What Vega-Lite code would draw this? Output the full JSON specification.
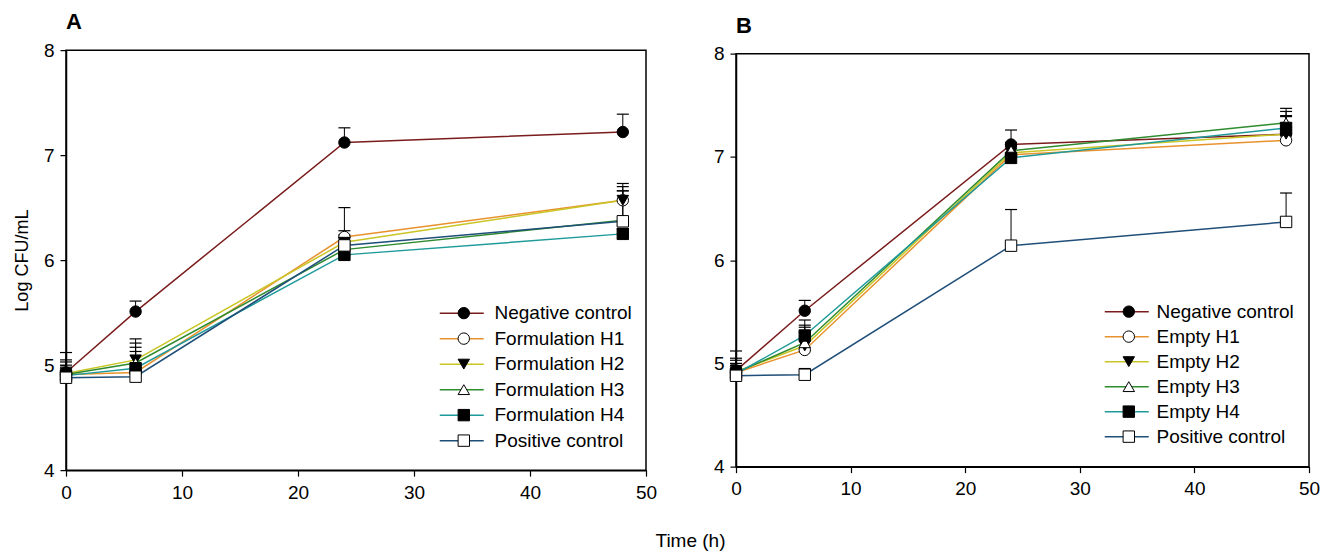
{
  "$schema": "https://vega.github.io/schema/vega-lite/v6.json",
  "background": "white",
  "padding": {"left": 12, "top": 10, "right": 14, "bottom": 4},
  "title": {"text": "Time (h)", "orient": "bottom", "anchor": "middle", "fontSize": 19, "font": "Liberation Sans", "fontWeight": "normal", "color": "black", "offset": 29, "dx": 24},
  "datasets": {
    "a": [
      {"series": "Negative control", "id": "NC", "t": 0, "y": 4.93, "hi": 5.12},
      {"series": "Negative control", "id": "NC", "t": 6, "y": 5.51, "hi": 5.61},
      {"series": "Negative control", "id": "NC", "t": 24, "y": 7.12, "hi": 7.26},
      {"series": "Negative control", "id": "NC", "t": 48, "y": 7.22, "hi": 7.39},
      {"series": "Formulation H1", "id": "H1", "t": 0, "y": 4.91, "hi": 5.05},
      {"series": "Formulation H1", "id": "H1", "t": 6, "y": 4.93, "hi": 5.13},
      {"series": "Formulation H1", "id": "H1", "t": 24, "y": 6.22, "hi": 6.28},
      {"series": "Formulation H1", "id": "H1", "t": 48, "y": 6.57, "hi": 6.66},
      {"series": "Formulation H2", "id": "H2", "t": 0, "y": 4.92, "hi": 5.03},
      {"series": "Formulation H2", "id": "H2", "t": 6, "y": 5.05, "hi": 5.21},
      {"series": "Formulation H2", "id": "H2", "t": 24, "y": 6.17, "hi": 6.24},
      {"series": "Formulation H2", "id": "H2", "t": 48, "y": 6.57, "hi": 6.70},
      {"series": "Formulation H3", "id": "H3", "t": 0, "y": 4.91, "hi": 5.00},
      {"series": "Formulation H3", "id": "H3", "t": 6, "y": 5.02, "hi": 5.17},
      {"series": "Formulation H3", "id": "H3", "t": 24, "y": 6.10, "hi": 6.16},
      {"series": "Formulation H3", "id": "H3", "t": 48, "y": 6.38, "hi": 6.73},
      {"series": "Formulation H4", "id": "H4", "t": 0, "y": 4.90, "hi": 4.98},
      {"series": "Formulation H4", "id": "H4", "t": 6, "y": 4.97, "hi": 5.25},
      {"series": "Formulation H4", "id": "H4", "t": 24, "y": 6.05, "hi": 6.12},
      {"series": "Formulation H4", "id": "H4", "t": 48, "y": 6.25, "hi": 6.30},
      {"series": "Positive control", "id": "PC", "t": 0, "y": 4.88, "hi": 4.95},
      {"series": "Positive control", "id": "PC", "t": 6, "y": 4.89, "hi": 4.95},
      {"series": "Positive control", "id": "PC", "t": 24, "y": 6.14, "hi": 6.50},
      {"series": "Positive control", "id": "PC", "t": 48, "y": 6.37, "hi": 6.66}
    ],
    "b": [
      {"series": "Negative control", "id": "NC", "t": 0, "y": 4.93, "hi": 5.12},
      {"series": "Negative control", "id": "NC", "t": 6, "y": 5.51, "hi": 5.61},
      {"series": "Negative control", "id": "NC", "t": 24, "y": 7.12, "hi": 7.26},
      {"series": "Negative control", "id": "NC", "t": 48, "y": 7.22, "hi": 7.39},
      {"series": "Empty H1", "id": "H1", "t": 0, "y": 4.91, "hi": 5.05},
      {"series": "Empty H1", "id": "H1", "t": 6, "y": 5.13, "hi": 5.35},
      {"series": "Empty H1", "id": "H1", "t": 24, "y": 7.02, "hi": 7.10},
      {"series": "Empty H1", "id": "H1", "t": 48, "y": 7.16, "hi": 7.22},
      {"series": "Empty H2", "id": "H2", "t": 0, "y": 4.92, "hi": 5.03},
      {"series": "Empty H2", "id": "H2", "t": 6, "y": 5.17, "hi": 5.30},
      {"series": "Empty H2", "id": "H2", "t": 24, "y": 7.04, "hi": 7.12},
      {"series": "Empty H2", "id": "H2", "t": 48, "y": 7.22, "hi": 7.40},
      {"series": "Empty H3", "id": "H3", "t": 0, "y": 4.91, "hi": 5.00},
      {"series": "Empty H3", "id": "H3", "t": 6, "y": 5.20, "hi": 5.37},
      {"series": "Empty H3", "id": "H3", "t": 24, "y": 7.06, "hi": 7.14},
      {"series": "Empty H3", "id": "H3", "t": 48, "y": 7.33, "hi": 7.47},
      {"series": "Empty H4", "id": "H4", "t": 0, "y": 4.90, "hi": 4.98},
      {"series": "Empty H4", "id": "H4", "t": 6, "y": 5.27, "hi": 5.42},
      {"series": "Empty H4", "id": "H4", "t": 24, "y": 6.99, "hi": 7.08},
      {"series": "Empty H4", "id": "H4", "t": 48, "y": 7.28, "hi": 7.44},
      {"series": "Positive control", "id": "PC", "t": 0, "y": 4.88, "hi": 4.95},
      {"series": "Positive control", "id": "PC", "t": 6, "y": 4.89, "hi": 4.95},
      {"series": "Positive control", "id": "PC", "t": 24, "y": 6.14, "hi": 6.49},
      {"series": "Positive control", "id": "PC", "t": 48, "y": 6.37, "hi": 6.65}
    ]
  },
  "spacing": 54,
  "center": true,
  "hconcat": [
    {
      "width": 580,
      "height": 420,
      "title": {"text": "A", "anchor": "start", "frame": "group", "fontSize": 22, "fontWeight": "bold", "font": "Liberation Sans", "color": "black", "offset": 7},
      "data": {"name": "a"},
      "layer": [
        {
          "mark": {"type": "line", "strokeWidth": 1.5},
          "encoding": {
            "x": {"field": "t", "type": "quantitative", "scale": {"domain": [0, 50]}, "axis": {"values": [0, 10, 20, 30, 40, 50], "title": null, "format": "d", "labelPadding": 7}},
            "y": {"field": "y", "type": "quantitative", "scale": {"domain": [4, 8]}, "axis": {"values": [4, 5, 6, 7, 8], "title": "Log CFU/mL", "format": "d", "labelPadding": 6}},
            "color": {
              "field": "series", "type": "nominal",
              "scale": {"domain": ["Negative control", "Formulation H1", "Formulation H2", "Formulation H3", "Formulation H4", "Positive control"],
                        "range": ["#7a1c1c", "#e8922e", "#c9c524", "#2e8b2e", "#1f9a9a", "#1f4e79"]},
              "legend": {"orient": "none", "legendX": 386.25, "legendY": 253.5, "title": null, "symbolType": "M-2.84,0H2.84", "symbolSize": 240, "symbolStrokeWidth": 1.5, "symbolFillColor": "transparent", "labelOffset": 23.25, "rowPadding": 5.5, "padding": 0}
            }
          }
        },
        {
          "mark": {"type": "rule", "color": "black", "strokeWidth": 1},
          "encoding": {
            "x": {"field": "t", "type": "quantitative"},
            "y": {"field": "y", "type": "quantitative"},
            "y2": {"field": "hi"}
          }
        },
        {
          "mark": {"type": "point", "shape": "M-1,0H1", "stroke": "black", "strokeWidth": 1.2, "size": 144, "filled": false, "opacity": 1},
          "encoding": {
            "x": {"field": "t", "type": "quantitative"},
            "y": {"field": "hi", "type": "quantitative"}
          }
        },
        {
          "mark": {"type": "point", "filled": true, "stroke": "black", "strokeWidth": 1, "size": 130, "opacity": 1},
          "encoding": {
            "x": {"field": "t", "type": "quantitative"},
            "y": {"field": "y", "type": "quantitative"},
            "shape": {
              "field": "id", "type": "nominal",
              "scale": {"domain": ["NC", "H1", "H2", "H3", "H4", "PC"], "range": ["circle", "circle", "triangle-down", "triangle-up", "square", "square"]},
              "legend": {"orient": "none", "legendX": 388.3, "legendY": 253.5, "title": null, "symbolSize": 130, "symbolStrokeColor": "black", "symbolStrokeWidth": 1, "symbolOpacity": 1, "labelExpr": "''", "labelOffset": 12, "rowPadding": 5.5, "padding": 0,
                         "encode": {"symbols": {"update": {"stroke": {"value": "black"}, "strokeWidth": {"value": 1}}}}}
            },
            "fill": {
              "field": "id", "type": "nominal",
              "scale": {"domain": ["NC", "H1", "H2", "H3", "H4", "PC"], "range": ["black", "white", "black", "white", "black", "white"]},
              "legend": {"orient": "none", "legendX": 388.3, "legendY": 253.5, "title": null, "symbolSize": 130, "symbolStrokeColor": "black", "symbolStrokeWidth": 1, "symbolOpacity": 1, "labelExpr": "''", "labelOffset": 12, "rowPadding": 5.5, "padding": 0,
                         "encode": {"symbols": {"update": {"stroke": {"value": "black"}, "strokeWidth": {"value": 1}}}}}
            }
          }
        }
      ]
    },
    {
      "width": 573,
      "height": 413,
      "title": {"text": "B", "anchor": "start", "frame": "group", "fontSize": 22, "fontWeight": "bold", "font": "Liberation Sans", "color": "black", "offset": 7},
      "data": {"name": "b"},
      "layer": [
        {
          "mark": {"type": "line", "strokeWidth": 1.5},
          "encoding": {
            "x": {"field": "t", "type": "quantitative", "scale": {"domain": [0, 50]}, "axis": {"values": [0, 10, 20, 30, 40, 50], "title": null, "format": "d", "labelPadding": 7}},
            "y": {"field": "y", "type": "quantitative", "scale": {"domain": [4, 8]}, "axis": {"values": [4, 5, 6, 7, 8], "title": null, "format": "d", "labelPadding": 6}},
            "color": {
              "field": "series", "type": "nominal",
              "scale": {"domain": ["Negative control", "Empty H1", "Empty H2", "Empty H3", "Empty H4", "Positive control"],
                        "range": ["#7a1c1c", "#e8922e", "#c9c524", "#2e8b2e", "#1f9a9a", "#1f4e79"]},
              "legend": {"orient": "none", "legendX": 381.25, "legendY": 248.5, "title": null, "symbolType": "M-2.84,0H2.84", "symbolSize": 240, "symbolStrokeWidth": 1.5, "symbolFillColor": "transparent", "labelOffset": 20.25, "rowPadding": 5, "padding": 0}
            }
          }
        },
        {
          "mark": {"type": "rule", "color": "black", "strokeWidth": 1},
          "encoding": {
            "x": {"field": "t", "type": "quantitative"},
            "y": {"field": "y", "type": "quantitative"},
            "y2": {"field": "hi"}
          }
        },
        {
          "mark": {"type": "point", "shape": "M-1,0H1", "stroke": "black", "strokeWidth": 1.2, "size": 144, "filled": false, "opacity": 1},
          "encoding": {
            "x": {"field": "t", "type": "quantitative"},
            "y": {"field": "hi", "type": "quantitative"}
          }
        },
        {
          "mark": {"type": "point", "filled": true, "stroke": "black", "strokeWidth": 1, "size": 130, "opacity": 1},
          "encoding": {
            "x": {"field": "t", "type": "quantitative"},
            "y": {"field": "y", "type": "quantitative"},
            "shape": {
              "field": "id", "type": "nominal",
              "scale": {"domain": ["NC", "H1", "H2", "H3", "H4", "PC"], "range": ["circle", "circle", "triangle-down", "triangle-up", "square", "square"]},
              "legend": {"orient": "none", "legendX": 383.3, "legendY": 248.5, "title": null, "symbolSize": 130, "symbolStrokeColor": "black", "symbolStrokeWidth": 1, "symbolOpacity": 1, "labelExpr": "''", "labelOffset": 10, "rowPadding": 5, "padding": 0,
                         "encode": {"symbols": {"update": {"stroke": {"value": "black"}, "strokeWidth": {"value": 1}}}}}
            },
            "fill": {
              "field": "id", "type": "nominal",
              "scale": {"domain": ["NC", "H1", "H2", "H3", "H4", "PC"], "range": ["black", "white", "black", "white", "black", "white"]},
              "legend": {"orient": "none", "legendX": 383.3, "legendY": 248.5, "title": null, "symbolSize": 130, "symbolStrokeColor": "black", "symbolStrokeWidth": 1, "symbolOpacity": 1, "labelExpr": "''", "labelOffset": 10, "rowPadding": 5, "padding": 0,
                         "encode": {"symbols": {"update": {"stroke": {"value": "black"}, "strokeWidth": {"value": 1}}}}}
            }
          }
        }
      ]
    }
  ],
  "resolve": {
    "scale": {"color": "independent", "shape": "independent", "fill": "independent", "x": "independent", "y": "independent"},
    "legend": {"color": "independent", "shape": "independent", "fill": "independent"}
  },
  "config": {
    "font": "Liberation Sans",
    "view": {"stroke": "black", "strokeWidth": 1.5},
    "axis": {
      "domainColor": "black", "domainWidth": 1.5, "tickColor": "black", "tickWidth": 1.2, "tickSize": 6,
      "labelFont": "Liberation Sans", "labelFontSize": 19, "labelColor": "black", "labelPadding": 6,
      "labelFlush": false, "labelOverlap": false,
      "titleFont": "Liberation Sans", "titleFontSize": 18, "titleFontWeight": "normal", "titleColor": "black", "titlePadding": 12,
      "grid": false
    },
    "legend": {"labelFont": "Liberation Sans", "labelFontSize": 19, "labelColor": "black"}
  }
}
